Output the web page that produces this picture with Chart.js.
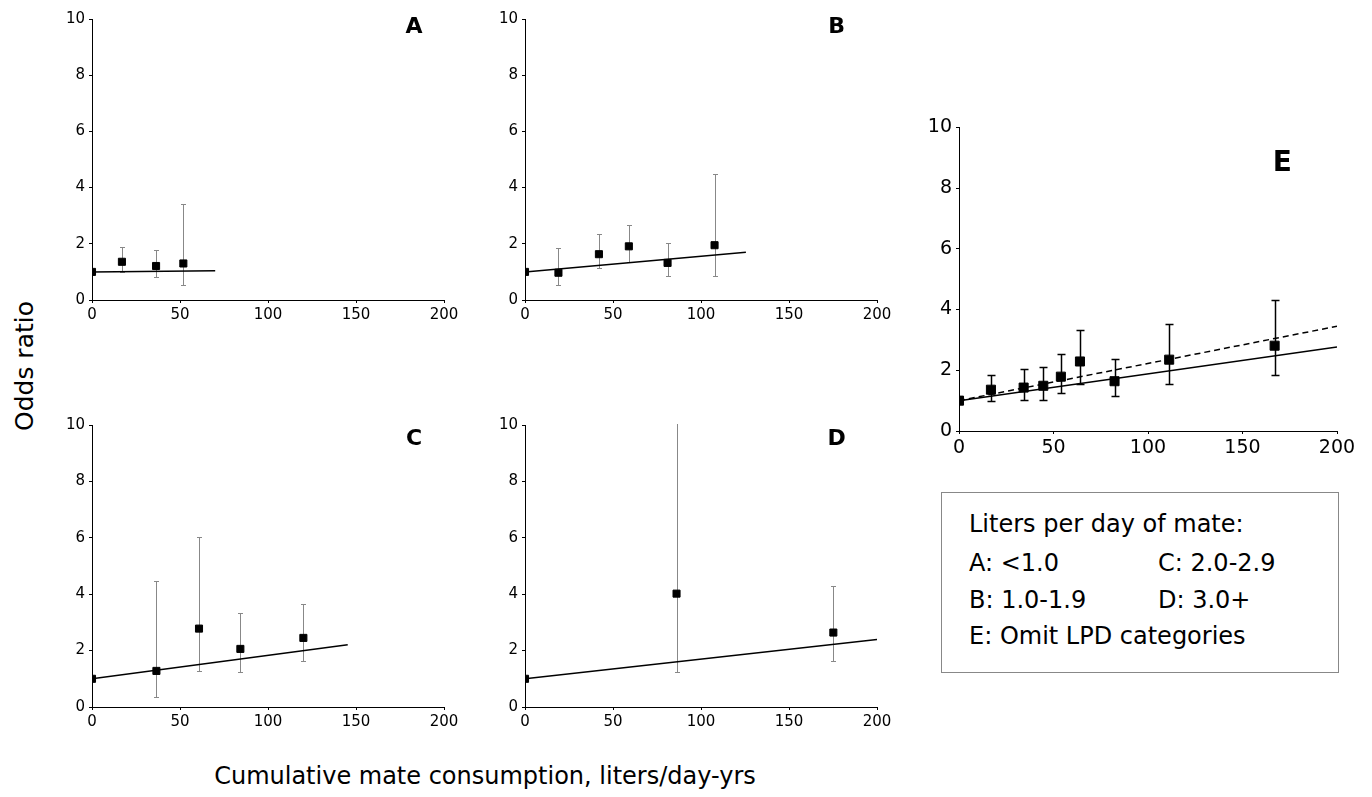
<!DOCTYPE html>
<html>
<head>
<meta charset="utf-8">
<script src="https://cdn.jsdelivr.net/npm/chart.js@4.4.1/dist/chart.umd.min.js"></script>
<style>
  body { margin: 0; background: #fff; width: 1372px; height: 797px; position: relative; overflow: hidden; font-family: "DejaVu Sans", sans-serif; color: #000; }
  canvas { position: absolute; }
  #ylab { position: absolute; left: 24px; top: 366px; transform: translate(-50%, -50%) rotate(-90deg); font-size: 25px; white-space: nowrap; }
  #xlab { position: absolute; left: 485px; top: 776px; transform: translate(-50%, -50%); font-size: 24px; white-space: nowrap; }
  #legend { position: absolute; left: 941px; top: 492px; width: 398px; height: 181px; border: 1px solid #888; box-sizing: border-box; font-size: 24px; }
  #legend div { position: absolute; transform: translateY(-50%); white-space: nowrap; }
</style>
</head>
<body>
<canvas id="chartA"></canvas>
<canvas id="chartB"></canvas>
<canvas id="chartC"></canvas>
<canvas id="chartD"></canvas>
<canvas id="chartE"></canvas>
<div id="ylab">Odds ratio</div>
<div id="xlab">Cumulative mate consumption, liters/day-yrs</div>
<div id="legend">
  <div style="left:27px; top:31px">Liters per day of mate:</div>
  <div style="left:27px; top:70px">A: &lt;1.0</div>
  <div style="left:216px; top:70px">C: 2.0-2.9</div>
  <div style="left:27px; top:107px">B: 1.0-1.9</div>
  <div style="left:216px; top:107px">D: 3.0+</div>
  <div style="left:27px; top:143px">E: Omit LPD categories</div>
</div>
<script>
// ticks
const xTicks = [0, 50, 100, 150, 200];
const yTicks = [0, 2, 4, 6, 8, 10];

// A: <1.0 l/day
const aX = [0, 17, 36.4, 51.9];
const aOR = [1.0, 1.36, 1.21, 1.30];
const aLo = [null, 1.0, 0.83, 0.52];
const aHi = [null, 1.89, 1.78, 3.40];
const aFitX = [0, 70];
const aFitY = [1.0, 1.04];

// B: 1.0-1.9
const bX = [0, 19, 42, 59, 81, 107.7];
const bOR = [1.0, 0.97, 1.63, 1.91, 1.32, 1.95];
const bLo = [null, 0.52, 1.15, 1.35, 0.87, 0.84];
const bHi = [null, 1.84, 2.36, 2.68, 2.03, 4.50];
const bFitX = [0, 125.5];
const bFitY = [1.0, 1.70];

// C: 2.0-2.9
const cX = [0, 36.6, 60.8, 84.3, 120.1];
const cOR = [1.0, 1.28, 2.78, 2.06, 2.45];
const cLo = [null, 0.37, 1.29, 1.25, 1.64];
const cHi = [null, 4.46, 6.04, 3.34, 3.67];
const cFitX = [0, 145.3];
const cFitY = [1.0, 2.21];

// D: 3.0+ (upper limit of 2nd point runs off the chart)
const dX = [0, 86.1, 175.2];
const dOR = [1.0, 4.02, 2.64];
const dLo = [null, 1.25, 1.63];
const dHi = [null, 12, 4.28];
const dFitX = [0, 200];
const dFitY = [1.0, 2.39];

// E: LPD categories omitted
const eX = [0, 16.9, 34.2, 44.6, 53.9, 64.0, 82.3, 111.2, 167.0];
const eOR = [1.0, 1.36, 1.43, 1.49, 1.79, 2.29, 1.64, 2.35, 2.81];
const eLo = [null, 0.98, 1.01, 1.03, 1.25, 1.56, 1.14, 1.56, 1.83];
const eHi = [null, 1.84, 2.04, 2.12, 2.55, 3.33, 2.37, 3.53, 4.33];
const eFitX = [0, 200];
const eFitY = [1.0, 2.77];
const eFit2X = [0, 200];
const eFit2Y = [1.0, 3.45];

const PAD_L = 50, PAD_T = 15, PAD_R = 25, PAD_B = 35;
const FONT = 'DejaVu Sans';

const pts = (xs, ys) => xs.map((v, i) => ({ x: v, y: ys[i] }));

const errorBars = {
  id: 'errorBars',
  beforeDatasetsDraw(chart, args, opts) {
    const { ctx, chartArea, scales: { x, y } } = chart;
    ctx.save();
    ctx.beginPath();
    ctx.rect(chartArea.left, chartArea.top - 1, chartArea.width, chartArea.height + 1);
    ctx.clip();
    ctx.strokeStyle = opts.color;
    ctx.lineWidth = opts.width;
    opts.xs.forEach((v, i) => {
      if (opts.lo[i] == null) return;
      const px = Math.round(x.getPixelForValue(v)) + 0.5;
      const y1 = Math.round(y.getPixelForValue(opts.lo[i])) + 0.5;
      const y2 = Math.round(y.getPixelForValue(opts.hi[i])) + 0.5;
      ctx.beginPath();
      ctx.moveTo(px, y1); ctx.lineTo(px, y2);
      ctx.moveTo(px - opts.cap, y1); ctx.lineTo(px + opts.cap, y1);
      ctx.moveTo(px - opts.cap, y2); ctx.lineTo(px + opts.cap, y2);
      ctx.stroke();
    });
    ctx.restore();
  }
};

const panelLetter = {
  id: 'panelLetter',
  afterDraw(chart, args, opts) {
    const { ctx, scales: { x, y } } = chart;
    ctx.save();
    ctx.font = 'bold ' + opts.size + 'px "' + FONT + '"';
    ctx.fillStyle = '#000';
    ctx.textAlign = 'center';
    ctx.textBaseline = 'middle';
    ctx.fillText(opts.text, x.getPixelForValue(opts.at[0]), y.getPixelForValue(opts.at[1]));
    ctx.restore();
  }
};

function makePanel(id, area, p) {
  const cv = document.getElementById(id);
  cv.width = area.r - area.l + PAD_L + PAD_R;
  cv.height = area.b - area.t + PAD_T + PAD_B;
  cv.style.left = (area.l - PAD_L) + 'px';
  cv.style.top = (area.t - PAD_T) + 'px';

  const datasets = [{
    data: pts(p.x, p.or),
    pointStyle: 'rect',
    pointRadius: p.big ? 6.4 : 5,
    backgroundColor: '#000',
    borderColor: '#000',
    borderWidth: 1
  }];
  p.fits.forEach(f => datasets.push({
    data: pts(f.x, f.y),
    showLine: true,
    pointRadius: 0,
    borderColor: '#000',
    borderWidth: 1.5,
    borderDash: f.dash || []
  }));

  const tickFont = { family: FONT, size: p.big ? 19 : 15 };
  return new Chart(cv, {
    type: 'scatter',
    data: { datasets },
    plugins: [errorBars, panelLetter],
    options: {
      responsive: false,
      animation: false,
      layout: { padding: { top: PAD_T, right: PAD_R, left: 0, bottom: 0 } },
      plugins: {
        legend: { display: false },
        tooltip: { enabled: false },
        errorBars: { xs: p.x, lo: p.lo, hi: p.hi, color: p.big ? '#000' : '#888', width: p.big ? 1.5 : 1, cap: p.big ? 4 : 2.5 },
        panelLetter: { text: p.letter, at: p.letterAt, size: p.big ? 28 : 22 }
      },
      scales: {
        x: {
          type: 'linear', min: 0, max: 200,
          afterFit: s => { s.height = PAD_B; },
          afterBuildTicks: s => { s.ticks = xTicks.map(v => ({ value: v })); },
          ticks: { font: tickFont, color: '#000', padding: 3, maxRotation: 0 },
          grid: { drawOnChartArea: false, tickLength: 3, color: '#000' },
          border: { color: '#000' }
        },
        y: {
          type: 'linear', min: 0, max: 10,
          afterFit: s => { s.width = PAD_L; },
          afterBuildTicks: s => { s.ticks = yTicks.map(v => ({ value: v })); },
          ticks: { font: tickFont, color: '#000', padding: 4 },
          grid: { drawOnChartArea: false, tickLength: 3, color: '#000' },
          border: { color: '#000' }
        }
      }
    }
  });
}

makePanel('chartA', { l: 92, r: 444, t: 19, b: 300 },
  { x: aX, or: aOR, lo: aLo, hi: aHi, fits: [{ x: aFitX, y: aFitY }], letter: 'A', letterAt: [183, 9.7] });
makePanel('chartB', { l: 525, r: 877, t: 19, b: 300 },
  { x: bX, or: bOR, lo: bLo, hi: bHi, fits: [{ x: bFitX, y: bFitY }], letter: 'B', letterAt: [177, 9.7] });
makePanel('chartC', { l: 92, r: 444, t: 425, b: 707 },
  { x: cX, or: cOR, lo: cLo, hi: cHi, fits: [{ x: cFitX, y: cFitY }], letter: 'C', letterAt: [183, 9.5] });
makePanel('chartD', { l: 525, r: 877, t: 425, b: 707 },
  { x: dX, or: dOR, lo: dLo, hi: dHi, fits: [{ x: dFitX, y: dFitY }], letter: 'D', letterAt: [177, 9.5] });
makePanel('chartE', { l: 959, r: 1337, t: 127, b: 431 },
  { x: eX, or: eOR, lo: eLo, hi: eHi, big: true,
    fits: [{ x: eFitX, y: eFitY }, { x: eFit2X, y: eFit2Y, dash: [6, 4] }],
    letter: 'E', letterAt: [171, 8.8] });
</script>
</body>
</html>
